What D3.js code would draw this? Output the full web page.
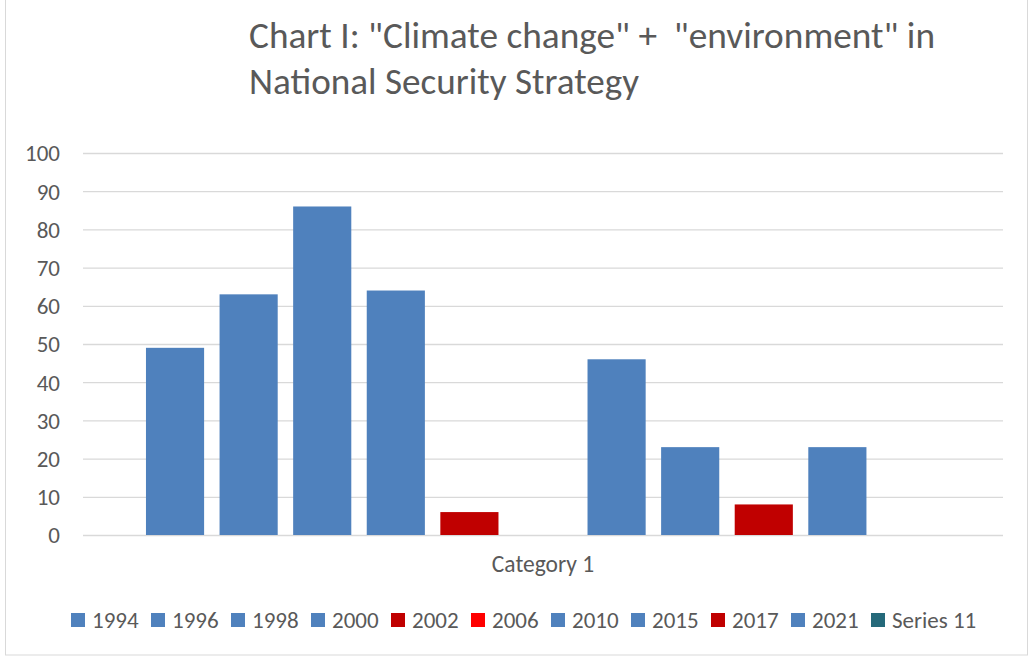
<!DOCTYPE html>
<html>
<head>
<meta charset="utf-8">
<script src="https://cdn.jsdelivr.net/npm/d3@7"></script>
<style>
  body { margin: 0; background: #fff; }
  svg { display: block; font-family: Carlito, "Open Sans", sans-serif; }
</style>
</head>
<body>
<svg width="1033" height="658"></svg>
<script>
const categories = ['Category 1'];
const seriesNames = ['1994', '1996', '1998', '2000', '2002', '2006', '2010', '2015', '2017', '2021', 'Series 11'];
const seriesValues = [49, 63, 86, 64, 6, 0, 46, 23, 8, 23, 0];
const seriesColors = ['#4f81bd', '#4f81bd', '#4f81bd', '#4f81bd', '#c00000', '#ff0000', '#4f81bd', '#4f81bd', '#c00000', '#4f81bd', '#25697a'];
const yTicks = [0, 10, 20, 30, 40, 50, 60, 70, 80, 90, 100];
const titleLines = ['Chart I: "Climate change" +  "environment" in', 'National Security Strategy'];

const margens = { left: 83, right: 30, top: 153, bottom: 123 };
const svg = d3.select('svg');
const svgWidth = 1033, svgHeight = 658;
const innerWidth = svgWidth - margens.left - margens.right;
const innerHeight = svgHeight - margens.top - margens.bottom;

// frame
svg.append('rect')
    .attr('x', 5.5).attr('y', -1)
    .attr('width', 1022).attr('height', 656)
    .attr('fill', 'none').attr('stroke', '#d9d9d9');

// title
svg.append('g').selectAll('text').data(titleLines).join('text')
    .attr('x', 249)
    .attr('y', (d, i) => 48 + i * 46)
    .attr('font-size', 37)
    .attr('fill', '#595959')
    .attr('xml:space', 'preserve')
    .style('white-space', 'pre')
    .attr('textLength', (d, i) => i === 0 ? 686 : 390)
    .attr('lengthAdjust', 'spacingAndGlyphs')
    .text(d => d);

const g = svg.append('g')
    .attr('transform', `translate(${margens.left}, ${margens.top})`);

const mapY = d3.scaleLinear().domain([0, 100]).range([innerHeight, 0]);
const x0 = d3.scaleBand().domain(categories).range([0, innerWidth]).paddingInner(0).paddingOuter(0.0793);
const x1 = d3.scaleBand().domain(seriesNames).range([0, x0.bandwidth()]).paddingInner(0.21).paddingOuter(0);

// gridlines
g.append('g').selectAll('line').data(yTicks).join('line')
    .attr('x1', 0).attr('x2', innerWidth)
    .attr('y1', d => mapY(d) + 0.5).attr('y2', d => mapY(d) + 0.5)
    .attr('stroke', '#d9d9d9').attr('stroke-width', 1.3);

// y axis labels
const yAxis = d3.axisLeft(mapY).tickValues(yTicks).tickSize(0).tickPadding(23);
g.append('g').call(yAxis)
    .call(a => a.select('.domain').remove())
    .selectAll('text')
    .attr('font-size', 23)
    .attr('fill', '#595959')
    .attr('dy', '0.34em')
    .style('font-family', 'Carlito, "Open Sans", sans-serif');

// bars
const data = seriesNames.map((s, i) => ({ cat: categories[0], name: s, value: seriesValues[i], color: seriesColors[i] }));
g.append('g').selectAll('rect').data(data).join('rect')
    .attr('x', d => x0(d.cat) + x1(d.name))
    .attr('y', d => mapY(d.value))
    .attr('width', x1.bandwidth())
    .attr('height', d => mapY(0) - mapY(d.value))
    .attr('fill', d => d.color);

// x axis
const xAxis = d3.axisBottom(x0).tickSize(0).tickPadding(20);
g.append('g').attr('transform', `translate(0, ${innerHeight})`).call(xAxis)
    .call(a => a.select('.domain').remove())
    .selectAll('text')
    .attr('font-size', 23.5)
    .attr('fill', '#595959')
    .style('font-family', 'Carlito, "Open Sans", sans-serif');

// legend
const legend = svg.append('g').selectAll('g').data(data).join('g')
    .attr('transform', (d, i) => `translate(${71 + i * 80}, 613)`);
legend.append('rect')
    .attr('width', 14).attr('height', 14)
    .attr('fill', d => d.color);
legend.append('text')
    .attr('x', 21).attr('y', 14.5)
    .attr('font-size', 23)
    .attr('fill', '#595959')
    .text(d => d.name);
</script>
</body>
</html>
